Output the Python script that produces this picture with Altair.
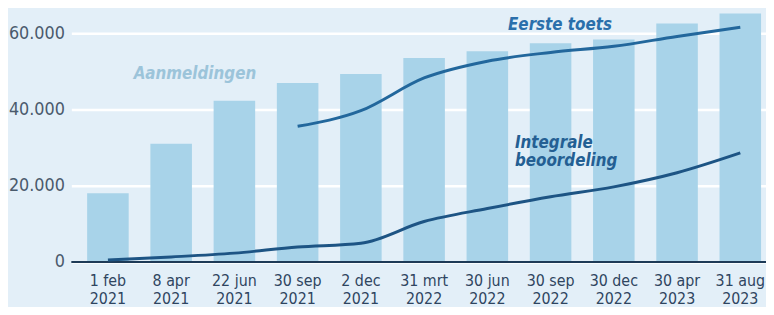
import altair as alt
import pandas as pd

days = ["1 feb", "8 apr", "22 jun", "30 sep", "2 dec", "31 mrt", "30 jun",
        "30 sep", "30 dec", "30 apr", "31 aug"]
years = ["2021", "2021", "2021", "2021", "2021", "2022", "2022",
         "2022", "2022", "2023", "2023"]
aanmeldingen = [18000, 31000, 42300, 47000, 49300, 53500, 55300,
                57400, 58400, 62600, 65200]
eerste_toets = [None, None, None, 35600, 39700, 48300, 52700,
                55000, 56600, 59200, 61600]
integrale = [500, 1300, 2300, 3900, 4900, 10600, 14000,
             17100, 19700, 23400, 28600]

cats = [d + "|" + y for d, y in zip(days, years)]

bars_df = pd.DataFrame({"cat": cats, "value": aanmeldingen})
lines_df = pd.DataFrame(
    [{"cat": c, "value": v, "serie": "Eerste toets"} for c, v in zip(cats, eerste_toets) if v is not None]
    + [{"cat": c, "value": v, "serie": "Integrale beoordeling"} for c, v in zip(cats, integrale)]
)

ann_text = ["Aanmeldingen", "Eerste toets", "Integrale", "beoordeling"]
ann_cat = [cats[1], cats[7], cats[7], cats[7]]
ann_val = [49300, 62300, 31300, 26500]
ann_kind = ["a", "e", "i", "i"]
ann_df = pd.DataFrame({"text": ann_text, "cat": ann_cat, "value": ann_val, "kind": ann_kind})

BG = "#e3eff8"
FONT = "Liberation Sans Narrow, DejaVu Sans Condensed, Liberation Sans, sans-serif"

x = alt.X("cat:N", sort=cats,
          scale=alt.Scale(range=[0, 713], paddingInner=0.343, paddingOuter=0.25),
          axis=alt.Axis(title=None, labelAngle=0, ticks=False, domain=False,
                        labelExpr="split(datum.label, '|')",
                        labelFont=FONT, labelFontSize=16, labelLineHeight=18,
                        labelColor="#2f4560", labelPadding=11, labelBaseline="top",
                        labelFlush=False, labelOverlap=False))
y = alt.Y("value:Q", scale=alt.Scale(domain=[0, 66250], nice=False),
          axis=alt.Axis(title=None, values=[0, 20000, 40000, 60000],
                        labelExpr="replace(format(datum.value, ','), ',', '.')",
                        domain=False, ticks=False, grid=True, gridColor="white",
                        gridWidth=2.5, labelFont=FONT, labelFontSize=18,
                        labelColor="#4a5a6c", labelPadding=7))

bars = alt.Chart(bars_df).mark_bar(color="#a8d3e9").encode(x=x, y=y)

baseline = alt.Chart(pd.DataFrame({"value": [0]})).mark_rule(
    color="#1d3a57", strokeWidth=2
).encode(y="value:Q")

lines = alt.Chart(lines_df).mark_line(strokeWidth=3, interpolate="monotone").encode(
    x=alt.X("cat:N", sort=cats),
    y="value:Q",
    detail="serie:N",
    color=alt.Color("serie:N", scale=alt.Scale(domain=["Eerste toets", "Integrale beoordeling"],
                                               range=["#22679c", "#1d5484"]), legend=None),
)

ann_a = alt.Chart(ann_df[ann_df.kind == "a"]).mark_text(
    font=FONT, fontSize=17, fontWeight="bold", fontStyle="italic",
    color="#9cc4da", align="center", baseline="middle", dx=24
).encode(x=alt.X("cat:N", sort=cats), y="value:Q", text="text:N")

ann_e = alt.Chart(ann_df[ann_df.kind == "e"]).mark_text(
    font=FONT, fontSize=17, fontWeight="bold", fontStyle="italic",
    color="#2a6fab", align="left", baseline="middle", dx=-43
).encode(x=alt.X("cat:N", sort=cats), y="value:Q", text="text:N")

ann_i = alt.Chart(ann_df[ann_df.kind == "i"]).mark_text(
    font=FONT, fontSize=17, fontWeight="bold", fontStyle="italic",
    color="#245f93", align="left", baseline="middle", dx=-36
).encode(x=alt.X("cat:N", sort=cats), y="value:Q", text="text:N")

chart = alt.layer(bars, baseline, lines, ann_a, ann_e, ann_i).properties(
    width=702, height=255,
    autosize=alt.AutoSizeParams(type="none"),
    padding={"left": 64, "top": 0, "right": 0, "bottom": 44},
    background=BG,
).configure_view(stroke=None, fill=BG)

chart.save("out.html", embed_options={"renderer": "svg", "actions": False})
